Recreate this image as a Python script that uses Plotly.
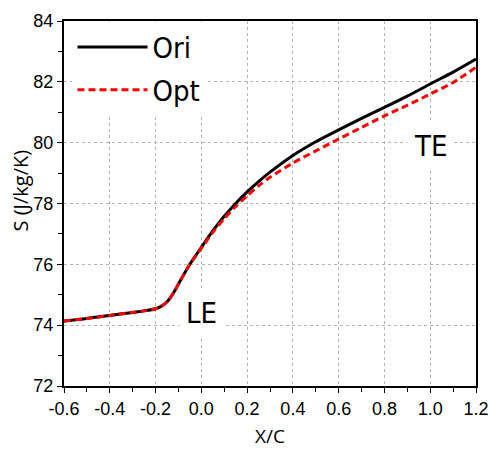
import plotly.graph_objects as go

# ---- data ----
x_ori = [-0.6, -0.5, -0.4, -0.3, -0.25, -0.2, -0.18, -0.16, -0.14, -0.12, -0.1, -0.08, -0.06, -0.04,
         -0.02, 0.0, 0.05, 0.1, 0.15, 0.2, 0.25, 0.3, 0.4, 0.5, 0.6, 0.7, 0.8, 0.9, 1.0, 1.1, 1.2]
s_ori = [74.14, 74.22, 74.32, 74.42, 74.47, 74.54, 74.6, 74.7, 74.85, 75.08, 75.35, 75.62, 75.88, 76.12,
         76.34, 76.56, 77.1, 77.58, 78.0, 78.38, 78.72, 79.03, 79.58, 80.03, 80.42, 80.8, 81.16, 81.53,
         81.93, 82.32, 82.75]
x_opt = [-0.6, -0.5, -0.4, -0.3, -0.25, -0.2, -0.18, -0.16, -0.14, -0.12, -0.1, -0.08, -0.06, -0.04,
         -0.02, 0.0, 0.05, 0.1, 0.15, 0.2, 0.25, 0.3, 0.4, 0.5, 0.6, 0.7, 0.8, 0.9, 1.0, 1.1, 1.2]
s_opt = [74.14, 74.22, 74.32, 74.42, 74.47, 74.54, 74.6, 74.7, 74.85, 75.08, 75.35, 75.62, 75.88, 76.11,
         76.32, 76.53, 77.05, 77.5, 77.9, 78.25, 78.58, 78.86, 79.33, 79.73, 80.12, 80.5, 80.88, 81.23,
         81.6, 81.98, 82.48]

x_tickvals = [-0.6, -0.4, -0.2, 0.0, 0.2, 0.4, 0.6, 0.8, 1.0, 1.2]
x_ticktext = ["-0.6", "-0.4", "-0.2", "0.0", "0.2", "0.4", "0.6", "0.8", "1.0", "1.2"]
y_tickvals = [72, 74, 76, 78, 80, 82, 84]
y_ticktext = ["72", "74", "76", "78", "80", "82", "84"]

series_names = ["Ori", "Opt"]

TICK_FONT = dict(family="Liberation Sans, Arial, sans-serif", size=18, color="black")
BIG_FONT = dict(family="Liberation Sans Narrow, DejaVu Sans Condensed, Liberation Sans, sans-serif",
                size=29, color="black")
TITLE_FONT = dict(family="Open Sans, Noto Sans, sans-serif", size=19, color="black")

fig = go.Figure()
fig.add_trace(go.Scatter(x=x_ori, y=s_ori, mode="lines", name=series_names[0], legendgroup="a",
                         line=dict(color="black", width=3, shape="spline", smoothing=0.8)))
fig.add_trace(go.Scatter(x=x_opt, y=s_opt, mode="lines", name=series_names[1], legendgroup="b",
                         line=dict(color="#ff0000", width=3, dash="7px,4px", shape="spline", smoothing=0.8)))

axis_common = dict(
    showline=True, linecolor="black", linewidth=2, mirror=True,
    ticks="outside", ticklen=5, tickwidth=1.3, tickcolor="black",
    showgrid=True, gridcolor="#b4b4b4", griddash="dot", gridwidth=1,
    zeroline=False, tickfont=TICK_FONT, automargin=False,
)

fig.update_xaxes(range=[-0.6, 1.2], tickmode="array", tickvals=x_tickvals, ticktext=x_ticktext,
                 minor=dict(dtick=0.1, ticks="outside", ticklen=4, tickcolor="black", showgrid=False),
                 title=dict(text="X/C", font=TITLE_FONT, standoff=12), **axis_common)
fig.update_yaxes(range=[72, 84], tickmode="array", tickvals=y_tickvals, ticktext=y_ticktext,
                 minor=dict(dtick=1, ticks="outside", ticklen=4, tickcolor="black", showgrid=False),
                 **axis_common)

# y-axis title (placed slightly above centre, as in the original)
fig.add_annotation(xref="paper", yref="paper", x=-0.105, y=0.535, text="S (J/kg/K)",
                   textangle=-90, showarrow=False, font=dict(TITLE_FONT, size=20),
                   xanchor="center", yanchor="middle")

fig.add_annotation(x=0.0, y=74.4, text="LE", showarrow=False, font=BIG_FONT,
                   bgcolor="white", borderpad=6)
fig.add_annotation(x=1.0, y=79.9, text="TE", showarrow=False, font=BIG_FONT,
                   bgcolor="white", borderpad=6)

fig.update_layout(
    width=490, height=454,
    margin=dict(l=63.5, r=13.5, t=20.7, b=68),
    plot_bgcolor="white", paper_bgcolor="white",
    showlegend=True, hovermode=False,
    legend=dict(x=0.0206, y=0.998, xanchor="left", yanchor="top", bgcolor="white",
                font=BIG_FONT, itemwidth=70, borderwidth=0,
                traceorder="grouped", tracegroupgap=2),
)

# remove the browser's default 8px page margin so the 490x454 figure fills the window exactly
fig.write_html("out.html", config={"displayModeBar": False},
               post_script="document.body.style.margin='0';")
